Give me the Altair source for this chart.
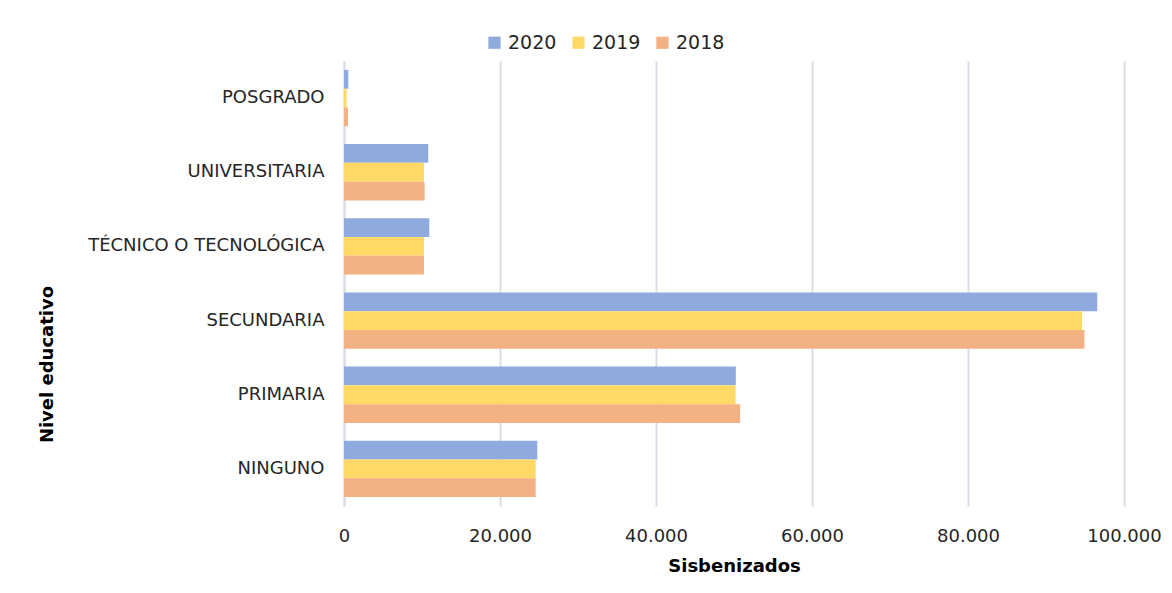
import altair as alt
import pandas as pd

categories = ["POSGRADO", "UNIVERSITARIA", "TÉCNICO O TECNOLÓGICA", "SECUNDARIA", "PRIMARIA", "NINGUNO"]
years = ["2020", "2019", "2018"]
v2020 = [550, 10800, 10930, 96570, 50230, 24780]
v2019 = [340, 10250, 10250, 94620, 50200, 24570]
v2018 = [510, 10330, 10250, 94920, 50790, 24570]
colors = ["#8FAADC", "#FFD966", "#F4B183"]

rows = []
for yr, vals in zip(years, [v2020, v2019, v2018]):
    for c, v in zip(categories, vals):
        rows.append({"Nivel": c, "Año": yr, "Valor": v})
df = pd.DataFrame(rows)

FONT = "DejaVu Sans"

chart = alt.Chart(df).mark_bar().encode(
    y=alt.Y("Nivel:N", sort=categories,
            scale=alt.Scale(paddingInner=0.24, paddingOuter=0.12),
            axis=alt.Axis(title="Nivel educativo", titleFontWeight="bold", titleFontSize=18,
                          titleX=-297, titleY=303, titleAngle=-90, titleAlign="center", titleBaseline="middle",
                          labelFontSize=18, labelPadding=20, labelColor="#262626", labelLimit=0,
                          ticks=False, domain=True, domainColor="#D9DEE6", domainWidth=2,
                          titleColor="#000000", labelFont=FONT, titleFont=FONT)),
    x=alt.X("Valor:Q", scale=alt.Scale(domain=[0, 100000], nice=False),
            axis=alt.Axis(title="Sisbenizados", titleFontWeight="bold", titleFontSize=18,
                          titlePadding=12, values=[0, 20000, 40000, 60000, 80000, 100000],
                          labelExpr="replace(format(datum.value, ','), ',', '.')",
                          labelFlush=False,
                          labelFontSize=18, labelPadding=21, labelColor="#262626",
                          ticks=False, domain=False, grid=True, gridColor="#D9DEE6", gridWidth=2,
                          titleColor="#000000", labelFont=FONT, titleFont=FONT)),
    yOffset=alt.YOffset("Año:N", sort=years),
    color=alt.Color("Año:N", sort=years,
                    scale=alt.Scale(domain=years, range=colors),
                    legend=alt.Legend(title=None, orient="none", direction="horizontal",
                                      legendX=141, legendY=-28, symbolType="square",
                                      symbolSize=150, symbolStrokeWidth=0, labelFontSize=19,
                                      labelFont=FONT, columnPadding=12, labelColor="#262626")),
).properties(
    width=780, height=445,
    autosize=alt.AutoSizeParams(type="none"),
    padding={"left": 336, "top": 53, "right": 40, "bottom": 70},
).configure_view(stroke=None)

chart.save("out.html", embed_options={"renderer": "svg", "actions": False})
